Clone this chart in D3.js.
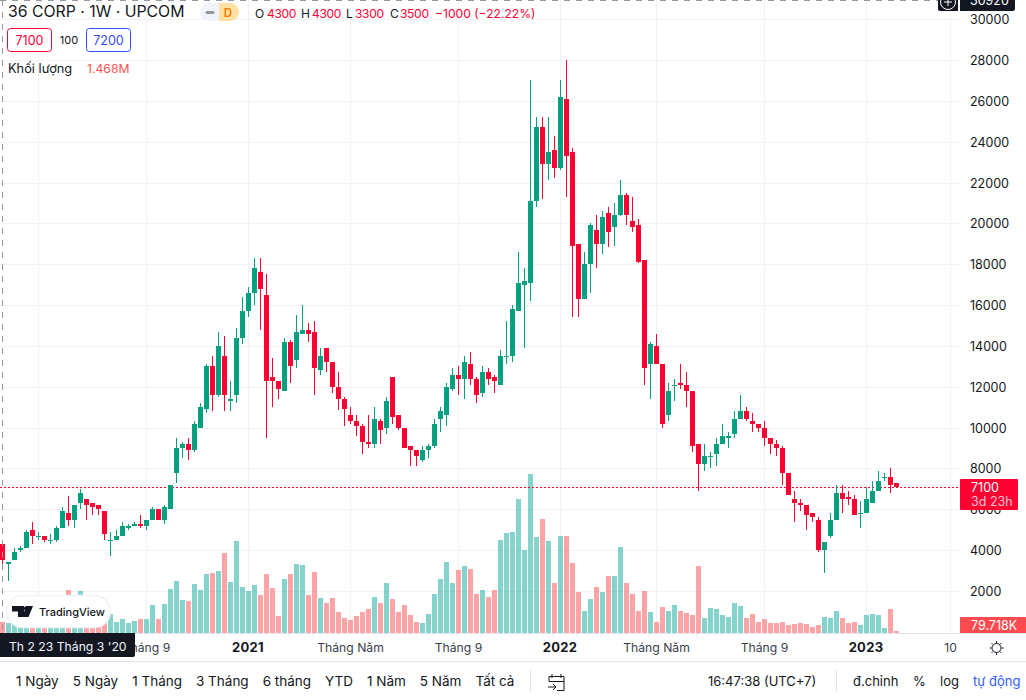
<!DOCTYPE html>
<html>
<head>
<meta charset="utf-8">
<style>
  html, body { margin: 0; padding: 0; background: #fff; overflow: hidden; }
  svg { display: block; font-family: Inter, "Liberation Sans", sans-serif; }
</style>
<script src="https://cdn.jsdelivr.net/npm/d3@7"></script>
</head>
<body>
<div id="chart"></div>
<script>
// weekly candles (VND)
var opens = [4300,3300,3500,4000,4100,5000,4700,4700,4500,4500,
  5100,5800,5500,6300,6500,6300,6200,5900,4500,4500,
  4700,5100,5200,5300,5200,5500,6000,5500,6000,7800,
  9000,9200,8900,10000,10900,13000,11600,13500,11300,11600,
  14400,15700,16600,17600,16500,12500,12300,11800,14200,13300,
  14600,14800,14700,12800,13900,13200,12000,11400,10600,10300,
  10100,9300,9200,10300,10000,12500,10600,10000,9100,8900,
  8400,8900,9100,10400,10600,11900,12600,12400,13100,12400,
  11700,12700,12500,12100,13500,13500,15700,17000,17100,21100,
  24700,22900,23600,22700,26100,23500,19000,16300,18000,19700,
  19000,20500,19800,20400,21400,20100,19900,18200,13100,14000,
  13100,10600,12100,12200,12100,11800,9200,8200,8600,8700,
  9200,9500,9700,10400,10800,10300,10200,10000,9500,9200,
  9000,7800,6500,6300,6200,5800,5500,4000,4700,5500,
  6800,6600,6500,5800,5800,6300,6900,7600,7600,7300];
var highs = [4300,3400,4100,4200,5000,5400,4900,4700,4800,5200,
  6100,6650,6200,7000,6500,6300,6200,5900,4900,5000,
  5400,5300,5400,5700,5500,6100,6000,6200,7200,9500,
  9300,9500,10300,11200,13100,13500,14700,14500,12300,14900,
  16400,16900,18300,18300,17500,13400,12300,14400,14300,15500,
  16000,15100,15200,13900,13900,13200,12700,11500,11000,10600,
  10200,10600,11000,10400,11500,12500,10600,10000,9100,8900,
  9100,9200,10400,11000,12200,12900,13000,13500,13700,12500,
  13000,12900,12600,13800,15200,16000,18600,17800,27000,25200,
  25200,25200,24300,27000,28000,23700,19000,18600,20000,20400,
  20600,20800,21000,22100,21500,21300,20200,18200,14200,14600,
  13100,12200,12400,13100,12700,11800,9200,9200,8800,9500,
  10200,9800,10800,11600,11000,10700,10200,10300,9500,9400,
  9100,7800,6900,6500,6200,5800,5600,4400,5800,7200,
  7200,6900,6700,6400,7100,7400,7900,7800,8000,7300];
var lows = [3300,2500,3500,3900,4100,4300,4500,4400,4300,4400,
  5100,5200,5100,6000,5500,5700,5700,4500,3700,4500,
  4700,5000,5200,5100,5000,5500,5500,5300,6000,7300,
  8500,8400,8800,10000,10700,10800,11500,10800,10800,11200,
  14100,15400,16000,14800,9500,11000,11400,11800,12200,12900,
  14600,14200,11600,12600,12700,11700,10850,10100,10200,9600,
  8700,9000,9000,9200,9700,10200,9900,9000,8100,8100,
  8300,8500,9000,9800,10100,11800,11600,11400,12100,11200,
  11500,12100,11700,12100,13100,13200,15700,13900,16200,20800,
  21200,22100,22200,22600,21300,15400,15400,16300,16600,17800,
  18500,18850,18900,20350,19900,19600,18050,12100,11400,13100,
  10000,10300,11300,11900,11000,8800,6900,7900,8000,8100,
  9200,9000,9500,10400,10300,9800,9800,9100,8700,8600,
  7200,6700,5400,5900,5000,5400,3900,2900,4600,5500,
  5800,6200,5700,5100,5800,6300,6900,7400,6800,7100];
var closes = [3500,3400,3900,4100,4900,4700,4700,4500,4500,5100,
  5900,5500,6200,6800,6200,6100,6000,4800,4500,4700,
  5200,5200,5300,5200,5500,6000,5500,6100,7200,9000,
  9200,8900,10200,11000,13000,11600,14000,11600,11400,14400,
  15700,16600,17800,16800,12300,12300,11900,14200,13000,14700,
  14800,14600,12900,13500,13200,12000,11400,10900,10300,10100,
  9300,9200,10400,9900,11300,10500,10000,9000,8900,8600,
  8900,9100,10200,10800,12000,12600,12400,13200,12400,11600,
  12700,12400,12300,13500,13500,15800,17100,17200,21100,24700,
  22900,23500,22700,26200,23300,18900,16300,18000,19900,19000,
  20300,19600,20400,21400,20400,19800,18100,12900,14100,13100,
  10200,11800,12100,12100,11800,9100,8200,8600,8600,9200,
  9600,9600,10400,10800,10400,10200,10000,9500,9200,9000,
  7800,6700,6300,6200,5700,5600,4000,4400,5500,6800,
  6500,6500,5700,5800,6500,6900,7400,7600,7200,7100];
// volume in millions of shares
var volumes = [1.47,1.34,1.2,1.1,1.2,1.5,1.1,1.0,1.2,1.4,
  1.3,5.6,1.5,5.5,1.6,1.5,1.7,1.8,2.5,1.47,
  1.86,1.34,1.6,1.86,1.86,3.68,1.86,3.81,5.76,6.8,
  4.33,4.2,6.41,5.63,7.71,7.84,8.1,10.44,6.67,12.0,
  6.02,5.5,6.28,4.98,7.71,5.89,2.25,7.06,7.71,9.0,
  8.88,4.98,7.97,4.59,3.94,4.59,2.77,1.99,1.73,2.25,
  2.77,3.16,4.72,3.94,6.54,4.46,2.77,3.68,2.38,1.47,
  1.34,2.51,5.11,7.06,9.27,6.54,8.23,8.75,8.36,5.11,
  5.63,4.72,5.63,12.12,13.03,13.16,17.45,10.83,20.7,12.51,
  14.85,11.99,6.54,12.64,12.64,9.1,5.33,2.86,4.42,5.98,
  5.33,7.4,7.4,11.17,6.5,5.07,2.86,5.46,2.73,1.43,
  3.38,2.86,3.64,2.86,2.6,2.34,8.7,1.95,3.25,3.12,
  2.34,2.08,3.9,3.51,1.95,2.47,1.43,1.82,1.3,1.3,
  1.43,1.04,1.17,1.3,1.17,0.78,1.04,2.08,1.95,2.86,
  1.95,1.3,1.43,1.04,2.34,2.47,2.34,0.65,3.12,0.0797];

var priceTicks = [2000,4000,6000,8000,10000,12000,14000,16000,18000,20000,22000,24000,26000,28000,30000];
var timeTickIdx = [6,24,41,58,76,93,109,127,144,158];
// the first label sits under the date tag, so it has no text
var timeTickLabels = ["","Tháng 9","2021","Tháng Năm","Tháng 9","2022","Tháng Năm","Tháng 9","2023","10"];
var boldTicks = ["2021","2022","2023"];
var rangeButtons = ["1 Ngày","5 Ngày","1 Tháng","3 Tháng","6 tháng","YTD","1 Năm","5 Năm","Tất cả"];
var lastPrice = 7100;

var RED = "#ff0033", GREEN = "#03a17f", GRID = "#f1f2f5", LINE = "#e0e3eb", INK = "#131722";
var width = 1026, height = 700, plotW = 960, plotB = 633;

var svg = d3.select("#chart").append("svg")
  .attr("width", width)
  .attr("height", height);

// set the ranges
var x = d3.scaleLinear().domain([0, 149]).range([2.5, 896.5]);
var y = d3.scaleLinear().domain([2000, 28000]).range([591, 60]);
var yVol = d3.scaleLinear().domain([0, 20]).range([plotB, plotB - 153.8]);
var py = function(v) { return Math.round(y(v)); };

// gridlines
svg.append("g").selectAll("line").data(priceTicks).enter().append("line")
  .attr("x1", 0).attr("x2", plotW)
  .attr("y1", function(d) { return py(d) + 0.5; })
  .attr("y2", function(d) { return py(d) + 0.5; })
  .attr("stroke", GRID);
svg.append("g").selectAll("line").data(timeTickIdx).enter().append("line")
  .attr("x1", function(d) { return x(d); }).attr("x2", function(d) { return x(d); })
  .attr("y1", 0).attr("y2", plotB)
  .attr("stroke", GRID);

// volume bars
svg.append("g").selectAll("rect").data(volumes).enter().append("rect")
  .attr("x", function(d, i) { return x(i) - 2.5; })
  .attr("width", 5)
  .attr("y", function(d) { return Math.min(Math.round(yVol(d)), plotB - 2); })
  .attr("height", function(d) { return plotB - Math.min(Math.round(yVol(d)), plotB - 2); })
  .attr("fill", function(d, i) { return closes[i] < opens[i] ? "rgb(255,73,77)" : "rgb(9,170,155)"; })
  .attr("fill-opacity", 0.5);

// last price line
svg.append("line")
  .attr("x1", 0).attr("x2", plotW)
  .attr("y1", py(lastPrice) + 0.5).attr("y2", py(lastPrice) + 0.5)
  .attr("stroke", RED).attr("stroke-dasharray", "2 2");

// candles
var candle = svg.append("g").selectAll("g").data(opens).enter().append("g")
  .attr("fill", function(d, i) { return closes[i] < opens[i] ? RED : GREEN; });
candle.append("rect")
  .attr("x", function(d, i) { return x(i) - 0.5; })
  .attr("width", 1)
  .attr("y", function(d, i) { return py(highs[i]); })
  .attr("height", function(d, i) { return Math.max(1, py(lows[i]) - py(highs[i])); });
candle.append("rect")
  .attr("x", function(d, i) { return x(i) - 2.5; })
  .attr("width", 5)
  .attr("y", function(d, i) { return py(Math.max(opens[i], closes[i])); })
  .attr("height", function(d, i) { return Math.max(1, py(Math.min(opens[i], closes[i])) - py(Math.max(opens[i], closes[i]))); });

// helper for all the interface text
function label(txt, px, pyy, opt) {
  opt = opt || {};
  return svg.append("text")
    .attr("x", px).attr("y", pyy)
    .attr("font-size", opt.size || 12.5)
    .attr("font-weight", opt.weight || 400)
    .attr("fill", opt.fill || INK)
    .attr("text-anchor", opt.anchor || "start")
    .attr("letter-spacing", opt.spacing || 0)
    .text(txt);
}

// crosshair sitting on the first candle
svg.append("line").attr("x1", x(0)).attr("x2", x(0)).attr("y1", 0).attr("y2", plotB)
  .attr("stroke", "#9598a1").attr("stroke-dasharray", "6 6");
svg.append("line").attr("x1", 0).attr("x2", plotW).attr("y1", 0.5).attr("y2", 0.5)
  .attr("stroke", "#9598a1").attr("stroke-dasharray", "6 6");

// axis frame
svg.append("line").attr("x1", 0).attr("x2", width).attr("y1", plotB + 0.5).attr("y2", plotB + 0.5).attr("stroke", LINE);
svg.append("line").attr("x1", 0).attr("x2", width).attr("y1", 661.5).attr("y2", 661.5).attr("stroke", LINE);

// price axis
priceTicks.forEach(function(t) {
  label(t, 970, py(t) + 5);
});

// time axis
timeTickIdx.forEach(function(idx, i) {
  if (timeTickLabels[i] === "") return;
  var bold = boldTicks.indexOf(timeTickLabels[i]) >= 0;
  label(timeTickLabels[i], bold ? x(idx) - 0.5 : x(idx), 652, {
    anchor: "middle",
    size: bold ? 13 : 12.2,
    weight: bold ? 700 : 400,
    spacing: bold ? 0.3 : 0,
    fill: bold ? INK : "#3a3e4a"
  });
});

// legend top left
label("36 CORP · 1W · UPCOM", 8, 17, {size: 15.8});
svg.append("path").attr("d", "M209 3a9 9 0 0 0 0 18h10v-18z").attr("fill", "#f0f3fa");
svg.append("path").attr("d", "M219 3h11a9 9 0 0 1 0 18h-11z").attr("fill", "#ffe0a3");
svg.append("rect").attr("x", 205.5).attr("y", 11).attr("width", 9).attr("height", 3).attr("rx", 1.5).attr("fill", "#9598a1");
label("D", 228, 16.5, {size: 11.5, weight: 600, anchor: "middle", fill: "#f57c00"});

var ohlcX = [[255, "O", INK], [267, "4300", RED], [301, "H", INK], [312, "4300", RED],
  [346, "L", INK], [355, "3300", RED], [390, "C", INK], [400, "3500", RED]];
ohlcX.forEach(function(o) { label(o[1], o[0], 18, {fill: o[2], size: 12, spacing: -0.3}); });
label("−1000 (−22.22%)", 435, 18, {fill: RED, size: 12.1});

svg.append("rect").attr("x", 7.5).attr("y", 28.5).attr("width", 44).attr("height", 23).attr("rx", 3)
  .attr("fill", "#fff").attr("stroke", RED);
label("7100", 29.5, 45, {anchor: "middle", fill: RED});
label("100", 69, 44, {size: 11, anchor: "middle"});
svg.append("rect").attr("x", 86.5).attr("y", 28.5).attr("width", 44).attr("height", 23).attr("rx", 3)
  .attr("fill", "#fff").attr("stroke", "#2f4bff");
label("7200", 108.5, 45, {anchor: "middle", fill: "#2f4bff"});
label("Khối lượng", 8, 73, {size: 12.8});
label("1.468M", 87, 73, {fill: "#ff5252", size: 12.2});

// TradingView badge
svg.append("rect").attr("x", 6.5).attr("y", 595.5).attr("width", 104).attr("height", 32).attr("rx", 16)
  .attr("fill", "#fff").attr("stroke", "#f0f3fa").attr("stroke-width", 1.5);
svg.append("path").attr("d", "M12 606h12v11h-6v-5.5h-6z M33 606l-4.5 11h-6.5l4.5-11z").attr("fill", INK);
svg.append("circle").attr("cx", 26.5).attr("cy", 608.5).attr("r", 2.5).attr("fill", INK);
label("TradingView", 39, 616, {size: 11, weight: 500});

// crosshair date tag
svg.append("path").attr("d", "M0 633h135v22a2 2 0 0 1 -2 2h-133z").attr("fill", INK);
label("Th 2 23 Tháng 3 '20", 9, 651, {fill: "#f0f3fa", size: 12.2});

// price labels on the right
svg.append("rect").attr("x", 960).attr("y", 479).attr("width", 58).attr("height", 31).attr("rx", 1).attr("fill", RED);
label("7100", 971, 492, {fill: "#fff"});
label("3d 23h", 971, 506, {fill: "#ffc4d0"});
svg.append("rect").attr("x", 960).attr("y", 617).attr("width", 66).attr("height", 16).attr("fill", "#ff4a4f");
label("79.718K", 971, 630, {fill: "#fff"});

// top right pill, cut off by the page edge
svg.append("path").attr("d", "M960 0h55v9a2 2 0 0 1 -2 2h-53z").attr("fill", INK);
label("30920", 970, 5, {fill: "#fff"});
svg.append("path").attr("d", "M938 0h20v11h-18a2 2 0 0 1 -2 -2z").attr("fill", INK);
svg.append("circle").attr("cx", 948).attr("cy", 2).attr("r", 7.5).attr("fill", "none").attr("stroke", "#fff");
svg.append("path").attr("d", "M948 -2v8M944 2h8").attr("stroke", "#fff").attr("fill", "none");

// sun icon in the corner
var sun = svg.append("g").attr("transform", "translate(996.5,648)").attr("fill", "none").attr("stroke", INK);
sun.append("circle").attr("r", 4.5);
d3.range(8).forEach(function(k) {
  var a = k * Math.PI / 4;
  sun.append("line")
    .attr("x1", 5 * Math.cos(a)).attr("y1", 5 * Math.sin(a))
    .attr("x2", 7 * Math.cos(a)).attr("y2", 7 * Math.sin(a));
});

// bottom toolbar, buttons flow one after the other
var cursorX = 16;
rangeButtons.forEach(function(b) {
  var t = label(b, cursorX, 686, {size: 13.5});
  cursorX += t.node().getComputedTextLength() + 14;
});
svg.append("line").attr("x1", 530.5).attr("x2", 530.5).attr("y1", 670).attr("y2", 692).attr("stroke", LINE);
svg.append("path")
  .attr("d", "M549 676.5h15v14h-7 M549 676.5v5h15 M552 674v4 M561 674v4 M548 687h8m-3 -3l3 3l-3 3")
  .attr("fill", "none").attr("stroke", INK);
label("16:47:38 (UTC+7)", 708, 686, {size: 13});
svg.append("line").attr("x1", 836.5).attr("x2", 836.5).attr("y1", 670).attr("y2", 692).attr("stroke", LINE);
label("đ.chỉnh", 853, 686, {size: 13});
label("%", 913, 686, {size: 13});
label("log", 940, 686, {size: 13});
label("tự động", 973, 686, {size: 13, fill: "#2f5bff"});
</script>
</body>
</html>
